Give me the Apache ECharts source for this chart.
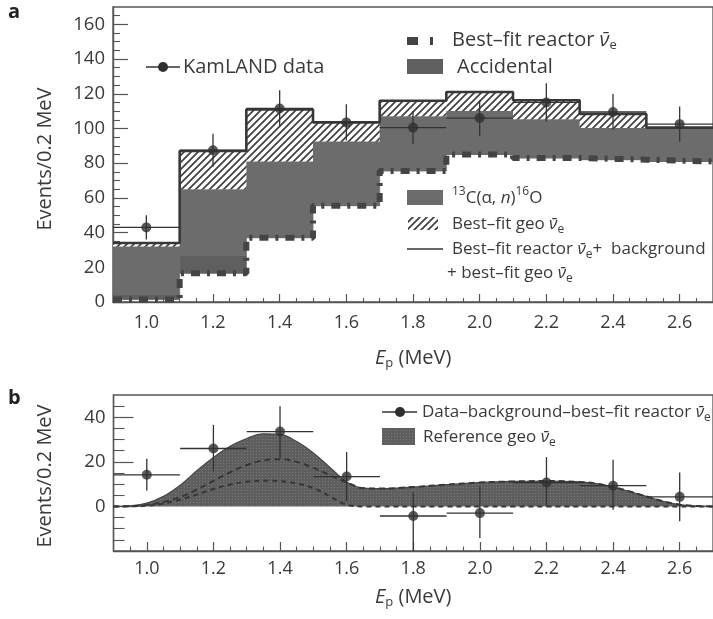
<!DOCTYPE html>
<html><head><meta charset="utf-8">
<script src="https://cdn.jsdelivr.net/npm/echarts@6/dist/echarts.min.js"></script>
<style>html,body{margin:0;padding:0;background:#fff}#c{width:713px;height:619px}</style>
</head><body><div id="c"></div>
<script>
// ---------- panel a data ----------
const binLow    = [0.9, 1.1, 1.3, 1.5, 1.7, 1.9, 2.1, 2.3, 2.5];
const binHigh   = [1.1, 1.3, 1.5, 1.7, 1.9, 2.1, 2.3, 2.5, 2.7];
const binCenter = [1.0, 1.2, 1.4, 1.6, 1.8, 2.0, 2.2, 2.4, 2.6];
const reactorA    = [1.5, 16.5, 37, 55.5, 75.5, 85, 83, 82, 81];
const accidentalA = [3, 10.5, 1, 0.5, 0.3, 0.3, 0.2, 0.2, 0.2];
const carbonA     = [27.5, 38, 43, 36.5, 31.2, 24.7, 22.1, 18.1, 19];
const geoA        = [2, 22, 30, 11, 9, 11, 11, 8, 0.3];
const dataA       = [43, 87.5, 111.5, 103.5, 100.5, 106, 115, 109.5, 102.5];
const errA        = [7, 9.5, 10.5, 10.5, 9.5, 10.2, 11, 10.3, 10.2];

// ---------- panel b data ----------
const dataB    = [14.2, 26, 33.6, 13.4, -4.3, -3, 10.7, 9.3, 4.3];
const errBHigh = [7.2, 10.6, 11.4, 11, 10.6, 12, 11.4, 11.6, 10.9];
const errBLow  = [7, 10.3, 11.9, 11, 16, 11.2, 10.7, 10.8, 11];
const curveE   = [0.9, 0.95, 1.0, 1.05, 1.1, 1.15, 1.2, 1.25, 1.3, 1.35, 1.4, 1.45, 1.5, 1.55, 1.6, 1.65, 1.7, 1.8, 1.9, 2.0, 2.1, 2.2, 2.3, 2.35, 2.4, 2.45, 2.5, 2.55, 2.6, 2.65, 2.7];
const geoTotal = [0, 0.3, 1.5, 4.5, 9.5, 16, 22, 27, 30.5, 32.6, 32.3, 29.1, 24, 17.5, 11, 8.2, 8, 8.7, 9.8, 10.7, 11.2, 11.4, 11, 10.2, 8.7, 6.7, 4.5, 2.3, 0.8, 0.2, 0];
const geoUpper = [0, 0.1, 0.7, 2, 4.2, 7.5, 11.5, 15.3, 18.5, 20.7, 21.2, 20, 17.3, 14, 10.8, 8.2, 8, 8.7, 9.8, 10.7, 11.2, 11.4, 11, 10.2, 8.7, 6.7, 4.5, 2.3, 0.8, 0.2, 0];
const geoLower = [0, 0.05, 0.3, 1.3, 3, 5.3, 7.8, 9.8, 11.1, 11.5, 11.3, 10.3, 8.2, 4.5, 0.8, 0, 0, 0, 0, 0, 0, 0, 0, 0, 0, 0, 0, 0, 0, 0, 0];

// ---------- ticks ----------
const xMajorTicks = [1.0, 1.2, 1.4, 1.6, 1.8, 2.0, 2.2, 2.4, 2.6];
const xMinorTicks = [0.95, 1.05, 1.1, 1.15, 1.25, 1.3, 1.35, 1.45, 1.5, 1.55, 1.65, 1.7, 1.75, 1.85, 1.9, 1.95, 2.05, 2.1, 2.15, 2.25, 2.3, 2.35, 2.45, 2.5, 2.55, 2.65];
const yMajorTicksA = [0, 20, 40, 60, 80, 100, 120, 140, 160];
const yMinorTicksA = [5, 10, 15, 25, 30, 35, 45, 50, 55, 65, 70, 75, 85, 90, 95, 105, 110, 115, 125, 130, 135, 145, 150, 155, 165];
const yMajorTicksB = [0, 20, 40];
const yMinorTicksB = [-15, -10, -5, 5, 10, 15, 25, 30, 35, 45];

const FONT = 'Open Sans';
const TXT = '#3a3a3a';
const AX = '#555';
const ACC_COL = '#5f5f5f';
const C13_COL = '#6c6c6c';

function hatchPattern() {
  const s = 7, c = document.createElement('canvas');
  c.width = s; c.height = s;
  const g = c.getContext('2d');
  g.fillStyle = '#fff'; g.fillRect(0, 0, s, s);
  g.strokeStyle = '#3f3f3f'; g.lineWidth = 1.7;
  g.beginPath();
  g.moveTo(-1, s + 1); g.lineTo(s + 1, -1);
  g.moveTo(-1, 1); g.lineTo(1, -1);
  g.moveTo(s - 1, s + 1); g.lineTo(s + 1, s - 1);
  g.stroke();
  return c;
}
function dotPattern() {
  const c = document.createElement('canvas');
  c.width = 3; c.height = 3;
  const g = c.getContext('2d');
  g.fillStyle = '#5e5e5e'; g.fillRect(0, 0, 3, 3);
  g.fillStyle = '#7a7a7a'; g.fillRect(1, 1, 1, 1);
  return c;
}
const HATCH = { image: hatchPattern(), repeat: 'repeat' };
const DOTS = { image: dotPattern(), repeat: 'repeat' };

// stacked boundaries
const accTop = reactorA.map((r, i) => r + accidentalA[i]);
const carbonTop = accTop.map((a, i) => a + carbonA[i]);
const geoTop = carbonTop.map((c, i) => c + geoA[i]);

function rectSeries(bottoms, tops, fill, edge, z) {
  return {
    type: 'custom', xAxisIndex: 0, yAxisIndex: 0, silent: true, z: z, clip: true,
    data: binLow.map((l, i) => [l, binHigh[i], bottoms[i], tops[i]]),
    encode: { x: [0, 1], y: [2, 3] },
    renderItem(params, api) {
      const p0 = api.coord([api.value(0), api.value(3)]);
      const p1 = api.coord([api.value(1), api.value(2)]);
      return { type: 'rect', shape: { x: p0[0], y: p0[1], width: p1[0] - p0[0], height: p1[1] - p0[1] },
        style: { fill: fill, stroke: edge, lineWidth: edge ? 0.8 : 0 } };
    }
  };
}
function stepData(vals) {
  const d = binLow.map((l, i) => [l, vals[i]]);
  d.push([binHigh[binHigh.length - 1], vals[vals.length - 1]]);
  return d;
}
function errSeries(xi, yi, xs, ys, lo, hi, xl, xh, z) {
  return {
    type: 'custom', xAxisIndex: xi, yAxisIndex: yi, silent: true, z: z, clip: true,
    data: xs.map((x, i) => [x, ys[i], ys[i] - lo[i], ys[i] + hi[i], xl[i], xh[i]]),
    encode: { x: 0, y: 1 },
    renderItem(params, api) {
      const a = api.coord([api.value(0), api.value(2)]);
      const b = api.coord([api.value(0), api.value(3)]);
      const c = api.coord([api.value(4), api.value(1)]);
      const d = api.coord([api.value(5), api.value(1)]);
      const st = { stroke: '#333', lineWidth: 1.3 };
      return { type: 'group', children: [
        { type: 'line', shape: { x1: a[0], y1: a[1], x2: b[0], y2: b[1] }, style: st },
        { type: 'line', shape: { x1: c[0], y1: c[1], x2: d[0], y2: d[1] }, style: st }
      ] };
    }
  };
}

function richFor(size) {
  return {
    nu: { fontFamily: FONT, fontStyle: 'italic', fontSize: size, lineHeight: 24, fill: TXT },
    i: { fontFamily: FONT, fontStyle: 'italic', fontSize: size, lineHeight: 24, fill: TXT },
    sub: { fontFamily: FONT, fontSize: size > 18 ? 13 : 12, lineHeight: 12, verticalAlign: 'bottom', fill: TXT },
    sup: { fontFamily: FONT, fontSize: 12, lineHeight: 12, verticalAlign: 'top', fill: TXT }
  };
}
function label(x, y, text, size) {
  return {
    type: 'text', x: x, y: y, silent: true, z: 100,
    style: { text: text, fontFamily: FONT, fontSize: size, fill: TXT, align: 'left', verticalAlign: 'middle', lineHeight: 24, rich: richFor(size) }
  };
}

function axisX(gi, major, margin) {
  return [{
    type: 'value', gridIndex: gi, min: 0.9, max: 2.7,
    axisLine: { show: true, onZero: false, lineStyle: { color: AX, width: 1.4 } },
    axisTick: { show: true, inside: true, length: major, customValues: xMajorTicks, lineStyle: { color: AX, width: 1.2 } },
    axisLabel: { customValues: xMajorTicks, formatter: v => v.toFixed(1), margin: margin, fontSize: 18, fontFamily: FONT, color: TXT },
    splitLine: { show: false }
  }, {
    type: 'value', gridIndex: gi, min: 0.9, max: 2.7, position: 'bottom',
    axisLine: { show: false, onZero: false },
    axisTick: { show: true, inside: true, length: major / 2, customValues: xMinorTicks, lineStyle: { color: AX, width: 1.1 } },
    axisLabel: { show: false }, splitLine: { show: false }
  }];
}
function axisY(gi, min, max, majorT, minorT, majLen, minLen) {
  return [{
    type: 'value', gridIndex: gi, min: min, max: max,
    axisLine: { show: true, onZero: false, lineStyle: { color: AX, width: 1.4 } },
    axisTick: { show: true, inside: true, length: majLen, customValues: majorT, lineStyle: { color: AX, width: 1.2 } },
    axisLabel: { customValues: majorT, margin: 8, fontSize: 18.5, fontFamily: FONT, color: TXT },
    splitLine: { show: false }
  }, {
    type: 'value', gridIndex: gi, min: min, max: max, position: 'left',
    axisLine: { show: false, onZero: false },
    axisTick: { show: true, inside: true, length: minLen, customValues: minorT, lineStyle: { color: AX, width: 1.1 } },
    axisLabel: { show: false }, splitLine: { show: false }
  }];
}

const chart = echarts.init(document.getElementById('c'), null, { renderer: 'canvas' });
const option = {
  animation: false,
  backgroundColor: '#fff',
  grid: [
    { left: 113, top: 7, right: -3, bottom: 317, show: true, borderColor: AX, borderWidth: 1.3, backgroundColor: 'transparent' },
    { left: 113.5, top: 395, right: -7, bottom: 68, show: true, borderColor: AX, borderWidth: 1.3, backgroundColor: 'transparent' }
  ],
  xAxis: [].concat(axisX(0, 8, 12), axisX(1, 9, 9)),
  yAxis: [].concat(axisY(0, 0, 170, yMajorTicksA, yMinorTicksA, 15, 7), axisY(1, -20, 50, yMajorTicksB, yMinorTicksB, 20, 11)),
  series: [
    rectSeries(reactorA, accTop, ACC_COL, ACC_COL, 2),
    rectSeries(accTop, carbonTop, C13_COL, C13_COL, 2),
    rectSeries(carbonTop, geoTop, HATCH, null, 2),
    { type: 'line', xAxisIndex: 0, yAxisIndex: 0, step: 'end', data: stepData(reactorA), symbol: 'none', silent: true, z: 3,
      lineStyle: { color: '#444', width: 6, type: [9, 7, 3, 7] } },
    { type: 'line', xAxisIndex: 0, yAxisIndex: 0, step: 'end', data: stepData(geoTop), symbol: 'none', silent: true, z: 4,
      lineStyle: { color: '#383838', width: 2.6 } },
    errSeries(0, 0, binCenter, dataA, errA, errA, binLow, binHigh, 5),
    { type: 'scatter', xAxisIndex: 0, yAxisIndex: 0, data: binCenter.map((x, i) => [x, dataA[i]]), symbol: 'circle', symbolSize: 10,
      itemStyle: { color: '#2f2f2f' }, silent: true, z: 6 },

    { type: 'line', xAxisIndex: 2, yAxisIndex: 2, data: curveE.map((x, i) => [x, geoTotal[i]]), smooth: 0.4, symbol: 'none', silent: true, z: 2,
      lineStyle: { color: '#474747', width: 1.2 }, areaStyle: { color: DOTS, opacity: 1, origin: 0 } },
    { type: 'line', xAxisIndex: 2, yAxisIndex: 2, data: curveE.map((x, i) => [x, geoUpper[i]]), smooth: 0.4, symbol: 'none', silent: true, z: 3,
      lineStyle: { color: '#363636', width: 2, type: [6, 4] } },
    { type: 'line', xAxisIndex: 2, yAxisIndex: 2, data: curveE.map((x, i) => [x, geoLower[i]]), smooth: 0.4, symbol: 'none', silent: true, z: 3,
      lineStyle: { color: '#363636', width: 2, type: [5, 4] } },
    errSeries(2, 2, binCenter, dataB, errBLow, errBHigh, binLow, binHigh, 5),
    { type: 'scatter', xAxisIndex: 2, yAxisIndex: 2, data: binCenter.map((x, i) => [x, dataB[i]]), symbol: 'circle', symbolSize: 10,
      itemStyle: { color: '#2f2f2f' }, silent: true, z: 6 }
  ],
  graphic: [
    { type: 'text', x: 8, y: 2, silent: true, style: { text: 'a', fontFamily: FONT, fontWeight: 'bold', fontSize: 20, fill: '#222' } },
    { type: 'text', x: 8, y: 388, silent: true, style: { text: 'b', fontFamily: FONT, fontWeight: 'bold', fontSize: 20, fill: '#222' } },
    { type: 'text', x: 45, y: 159, rotation: Math.PI / 2, silent: true,
      style: { text: 'Events/0.2 MeV', fontFamily: FONT, fontSize: 20, fill: TXT, align: 'center', verticalAlign: 'middle' } },
    { type: 'text', x: 45, y: 476, rotation: Math.PI / 2, silent: true,
      style: { text: 'Events/0.2 MeV', fontFamily: FONT, fontSize: 20, fill: TXT, align: 'center', verticalAlign: 'middle' } },
    label(375, 358, '{i|E}{sub|p} (MeV)', 20),
    label(375, 597, '{i|E}{sub|p} (MeV)', 20),
    // legend a, left
    { type: 'line', silent: true, shape: { x1: 146, y1: 67, x2: 180, y2: 67 }, style: { stroke: '#333', lineWidth: 1.3 } },
    { type: 'circle', silent: true, shape: { cx: 163, cy: 67, r: 5 }, style: { fill: '#2f2f2f' } },
    label(183, 67, 'KamLAND data', 20),
    // legend a, right
    { type: 'rect', silent: true, shape: { x: 407, y: 37, width: 11, height: 8 }, style: { fill: '#444' } },
    { type: 'rect', silent: true, shape: { x: 430, y: 37, width: 3, height: 8 }, style: { fill: '#444' } },
    label(452, 40, 'Best\u2013fit reactor {nu|\u03BD\u0304}{sub|e}', 20),
    { type: 'rect', silent: true, shape: { x: 407, y: 59, width: 36, height: 15 }, style: { fill: ACC_COL } },
    label(457, 67, 'Accidental', 20),
    { type: 'rect', silent: true, shape: { x: 407, y: 190, width: 36, height: 15 }, style: { fill: C13_COL } },
    label(452, 198, '{sup|13}C(\u03B1, {i|n}){sup|16}O', 17),
    { type: 'rect', silent: true, shape: { x: 408, y: 217, width: 30, height: 13 }, style: { fill: HATCH } },
    label(452, 224, 'Best\u2013fit geo {nu|\u03BD\u0304}{sub|e}', 17),
    { type: 'line', silent: true, shape: { x1: 407, y1: 249, x2: 443, y2: 249 }, style: { stroke: '#333', lineWidth: 1.6 } },
    label(452, 249, 'Best\u2013fit reactor {nu|\u03BD\u0304}{sub|e}+  background', 17),
    label(447, 273, '+ best\u2013fit geo {nu|\u03BD\u0304}{sub|e}', 17),
    // legend b
    { type: 'line', silent: true, shape: { x1: 382, y1: 412, x2: 417, y2: 412 }, style: { stroke: '#333', lineWidth: 1.3 } },
    { type: 'circle', silent: true, shape: { cx: 400, cy: 412, r: 5 }, style: { fill: '#2f2f2f' } },
    label(422, 412, 'Data\u2013background\u2013best\u2013fit reactor {nu|\u03BD\u0304}{sub|e}', 17),
    { type: 'rect', silent: true, shape: { x: 382, y: 428, width: 33, height: 17 }, style: { fill: DOTS } },
    label(423, 437, 'Reference geo {nu|\u03BD\u0304}{sub|e}', 17)
  ]
};
chart.setOption(option);
</script>
</body></html>
